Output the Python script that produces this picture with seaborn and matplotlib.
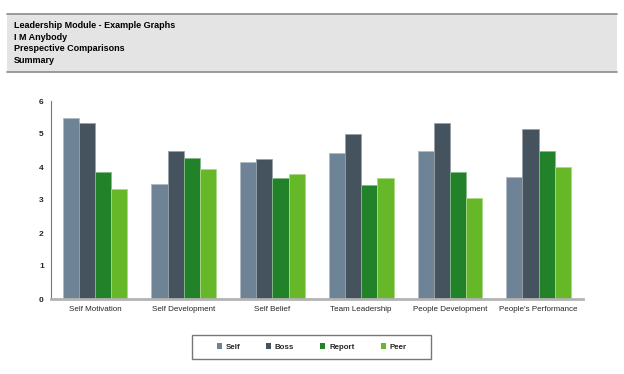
import matplotlib
matplotlib.use("Agg")
import matplotlib.pyplot as plt
import seaborn as sns
import pandas as pd
import numpy as np
from matplotlib.patches import Rectangle, Patch
from matplotlib.lines import Line2D
from matplotlib.colors import to_rgb

categories = ["Self Motivation", "Self Development", "Self Belief", "Team Leadership",
              "People Development", "People's Performance"]
series = ["Self", "Boss", "Report", "Peer"]
self_vals = [5.48, 3.48, 4.14, 4.42, 4.49, 3.71]
boss_vals = [5.33, 4.49, 4.23, 5.00, 5.33, 5.14]
report_vals = [3.84, 4.27, 3.66, 3.46, 3.84, 4.47]
peer_vals = [3.33, 3.94, 3.79, 3.66, 3.05, 4.00]
colors = ["#6e8396", "#45535e", "#21822a", "#66b828"]
header_lines = ["Leadership Module - Example Graphs", "I M Anybody",
                "Prespective Comparisons", "Summary"]

rows = []
for s, vals in zip(series, [self_vals, boss_vals, report_vals, peer_vals]):
    for c, v in zip(categories, vals):
        rows.append({"category": c, "series": s, "value": v})
df = pd.DataFrame(rows)

sns.set_theme(style="white")
plt.rcParams["font.family"] = ["Liberation Sans", "DejaVu Sans"]

W, H = 624, 374
fig = plt.figure(figsize=(W / 100, H / 100), dpi=100)
ax = fig.add_axes([50.7 / W, 1 - 299 / H, (583 - 50.7) / W, (299 - 101) / H])

sns.barplot(data=df, x="category", y="value", hue="series", order=categories,
            hue_order=series, palette=colors, width=0.73, errorbar=None,
            saturation=1, ax=ax, legend=False, linewidth=0)

for p in ax.patches:
    fc = np.array(to_rgb(p.get_facecolor()))
    p.set_edgecolor(tuple(fc * 0.55 + 0.45))
    p.set_linewidth(0.6)

ax.set_ylim(0, 6)
ax.set_xlim(-0.5, len(categories) - 0.5)
ax.set_yticks(range(0, 7))
ax.set_xlabel("")
ax.set_ylabel("")
for side in ["top", "right"]:
    ax.spines[side].set_visible(False)
ax.spines["left"].set_color("#777777")
ax.spines["left"].set_linewidth(0.8)
ax.spines["bottom"].set_color("#b3b3b3")
ax.spines["bottom"].set_linewidth(2)
ax.spines["bottom"].set_zorder(5)
ax.tick_params(axis="y", length=3, width=0.8, color="#777777", labelsize=6, pad=2)
ax.tick_params(axis="x", length=0, labelsize=5.8, pad=5)
for lab in ax.get_yticklabels():
    lab.set_fontweight("bold")

# header band
fig.patches.append(Rectangle((7 / W, 1 - 72 / H), 610 / W, 58 / H, transform=fig.transFigure,
                             facecolor="#e4e4e4", edgecolor="none", zorder=0))
for yy in [14, 72]:
    fig.add_artist(Line2D([7 / W, 617 / W], [1 - yy / H, 1 - yy / H], transform=fig.transFigure,
                          color="#8a8a8a", linewidth=1.2))
for i, t in enumerate(header_lines):
    fig.text(14 / W, 1 - (25.5 + 11.6 * i) / H, t, fontsize=6.5, fontweight="bold",
             va="center", ha="left", color="black")

# legend frame
fig.patches.append(Rectangle((192 / W, 1 - 359 / H), 239 / W, 24 / H, transform=fig.transFigure,
                             facecolor="white", edgecolor="#777777", linewidth=1, zorder=1))
handles = [Patch(facecolor=c, edgecolor="none") for c in colors]
leg = fig.legend(handles, series, loc="center", bbox_to_anchor=(311.5 / W, 1 - 347 / H),
                 ncol=4, frameon=False, fontsize=5.7, handlelength=0.65,
                 handleheight=0.65, handletextpad=0.45, columnspacing=3.3,
                 borderpad=0, borderaxespad=0)
for t in leg.get_texts():
    t.set_fontweight("bold")

fig.savefig("out.png", dpi=100)
